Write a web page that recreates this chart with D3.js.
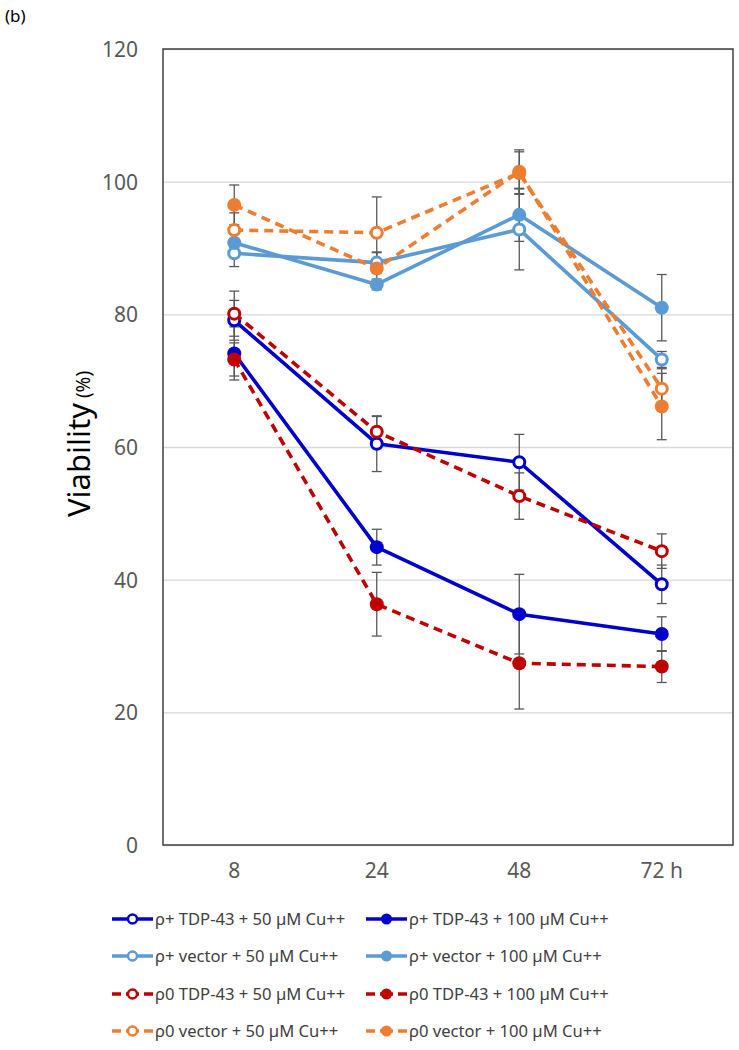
<!DOCTYPE html>
<html>
<head>
<meta charset="utf-8">
<script src="https://cdn.jsdelivr.net/npm/d3@7"></script>
<style>
  body { margin: 0; background: #fff; }
</style>
</head>
<body>
<div id="chart"></div>
<script>
var width = 739;
var height = 1050;

// data
var hours = ['8', '24', '48', '72 h'];
var yTicks = [0, 20, 40, 60, 80, 100, 120];

var seriesNames = [
  'ρ+ TDP-43 + 50 µM Cu++', 'ρ+ TDP-43 + 100 µM Cu++',
  'ρ+ vector + 50 µM Cu++', 'ρ+ vector + 100 µM Cu++',
  'ρ0 TDP-43 + 50 µM Cu++', 'ρ0 TDP-43 + 100 µM Cu++',
  'ρ0 vector + 50 µM Cu++', 'ρ0 vector + 100 µM Cu++'
];
var seriesColors = ['#0000CC', '#0000CC', '#5B9BD5', '#5B9BD5', '#C00000', '#C00000', '#ED7D31', '#ED7D31'];
var seriesDashed = [false, false, false, false, true, true, true, true];
var seriesFilled = [false, true, false, true, false, true, false, true];

var viability = [
  [79.1, 60.5, 57.7, 39.3],
  [74.1, 44.9, 34.8, 31.8],
  [89.2, 87.8, 92.8, 73.2],
  [90.8, 84.5, 95.0, 81.0],
  [80.1, 62.3, 52.6, 44.3],
  [73.2, 36.3, 27.4, 26.9],
  [92.7, 92.3, 101.3, 68.8],
  [96.5, 86.9, 101.5, 66.1]
];
var errors = [
  [3.0, 4.2, 4.2, 2.9],
  [4.0, 2.7, 6.0, 2.6],
  [2.0, 1.5, 6.1, 1.2],
  [2.0, 0.8, 4.0, 5.0],
  [3.4, 2.3, 3.5, 2.6],
  [2.5, 4.8, 6.9, 2.4],
  [2.6, 5.4, 3.2, 3.0],
  [3.0, 2.5, 3.3, 5.0]
];

// layout
var plotL = 163, plotR = 733, plotT = 49, plotB = 845;

var svg = d3.select('#chart')
  .append('svg')
  .attr('width', width)
  .attr('height', height)
  .style('font-family', 'Noto Sans, sans-serif');

var x = d3.scaleBand()
  .domain(hours)
  .range([plotL, plotR]);

var y = d3.scaleLinear()
  .domain([0, 120])
  .range([plotB, plotT]);

// gridlines
svg.append('g')
  .attr('class', 'grid')
  .attr('transform', 'translate(' + plotL + ',0)')
  .call(d3.axisLeft(y).tickValues(yTicks).tickSize(-(plotR - plotL)).tickFormat(''))
  .call(function(g) {
    g.select('.domain').remove();
    g.selectAll('line').attr('stroke', '#D9D9D9').attr('stroke-width', 1.3);
  });

// y axis labels
svg.append('g')
  .attr('transform', 'translate(' + plotL + ',0)')
  .call(d3.axisLeft(y).tickValues(yTicks).tickSize(0).tickPadding(25))
  .call(function(g) {
    g.select('.domain').remove();
    g.selectAll('text')
      .attr('fill', '#595959')
      .style('font-size', '21px')
      .style('font-family', 'Noto Sans, sans-serif')
      .attr('dy', '0.35em');
  });

// x axis labels
svg.append('g')
  .attr('transform', 'translate(0,' + plotB + ')')
  .call(d3.axisBottom(x).tickSize(0).tickPadding(18))
  .call(function(g) {
    g.select('.domain').remove();
    g.selectAll('text')
      .attr('fill', '#595959')
      .style('font-size', '21px')
      .style('font-family', 'Noto Sans, sans-serif');
  });

// plot frame
svg.append('rect')
  .attr('x', plotL)
  .attr('y', plotT)
  .attr('width', plotR - plotL)
  .attr('height', plotB - plotT)
  .attr('fill', 'none')
  .attr('stroke', '#404040')
  .attr('stroke-width', 1.5);

// y title
var yTitle = svg.append('text')
  .attr('transform', 'translate(90,444) rotate(-90)')
  .attr('text-anchor', 'middle')
  .attr('fill', '#000');
yTitle.append('tspan').text('Viability').style('font-size', '31px');
yTitle.append('tspan').text(' (%)').style('font-size', '19px');

svg.append('text')
  .attr('x', 5)
  .attr('y', 22)
  .text('(b)')
  .style('font-size', '17px')
  .attr('fill', '#000');

var cx = function(i) { return x(hours[i]) + x.bandwidth() / 2; };

// error bars
viability.forEach(function(vals, s) {
  var g = svg.append('g').attr('class', 'err');
  vals.forEach(function(v, i) {
    var e = errors[s][i];
    g.append('line')
      .attr('x1', cx(i)).attr('x2', cx(i))
      .attr('y1', y(v - e)).attr('y2', y(v + e))
      .attr('stroke', '#595959').attr('stroke-width', 1.3);
    [v - e, v + e].forEach(function(w) {
      g.append('line')
        .attr('x1', cx(i) - 5).attr('x2', cx(i) + 5)
        .attr('y1', y(w)).attr('y2', y(w))
        .attr('stroke', '#595959').attr('stroke-width', 1.3);
    });
  });
});

var line = d3.line()
  .x(function(d, i) { return cx(i); })
  .y(function(d) { return y(d); });

// lines and markers
viability.forEach(function(vals, s) {
  svg.append('path')
    .datum(vals)
    .attr('fill', 'none')
    .attr('stroke', seriesColors[s])
    .attr('stroke-width', 3.6)
    .attr('stroke-linejoin', 'round')
    .attr('stroke-dasharray', seriesDashed[s] ? '9,6' : null)
    .attr('d', line);

  svg.selectAll('.dot' + s)
    .data(vals)
    .enter()
    .append('circle')
    .attr('class', 'dot' + s)
    .attr('cx', function(d, i) { return cx(i); })
    .attr('cy', function(d) { return y(d); })
    .attr('r', seriesFilled[s] ? 7 : 5.5)
    .attr('fill', seriesFilled[s] ? seriesColors[s] : '#fff')
    .attr('stroke', seriesColors[s])
    .attr('stroke-width', seriesFilled[s] ? 0 : 3);
});

// legend
var legRowY = [919, 956, 994, 1031];
var legColX = [112, 366];
seriesNames.forEach(function(name, s) {
  var lx = legColX[s % 2];
  var ly = legRowY[Math.floor(s / 2)];
  var g = svg.append('g').attr('transform', 'translate(' + lx + ',' + ly + ')');
  if (seriesDashed[s]) {
    g.append('line').attr('x1', 0).attr('x2', 9).attr('y1', 0).attr('y2', 0)
      .attr('stroke', seriesColors[s]).attr('stroke-width', 3.5);
    g.append('line').attr('x1', 32).attr('x2', 41).attr('y1', 0).attr('y2', 0)
      .attr('stroke', seriesColors[s]).attr('stroke-width', 3.5);
    g.append('line').attr('x1', 14).attr('x2', 27).attr('y1', 0).attr('y2', 0)
      .attr('stroke', seriesColors[s]).attr('stroke-width', 3.5);
  } else {
    g.append('line').attr('x1', 0).attr('x2', 41).attr('y1', 0).attr('y2', 0)
      .attr('stroke', seriesColors[s]).attr('stroke-width', 3.5);
  }
  g.append('circle')
    .attr('cx', 20.5).attr('cy', 0)
    .attr('r', seriesFilled[s] ? 5.5 : 4.5)
    .attr('fill', seriesFilled[s] ? seriesColors[s] : '#fff')
    .attr('stroke', seriesColors[s])
    .attr('stroke-width', seriesFilled[s] ? 0 : 2.5);
  g.append('text')
    .attr('x', 43)
    .attr('y', 0)
    .attr('dy', '0.35em')
    .text(name)
    .style('font-size', '16.6px')
    .attr('fill', '#404040');
});
</script>
</body>
</html>
